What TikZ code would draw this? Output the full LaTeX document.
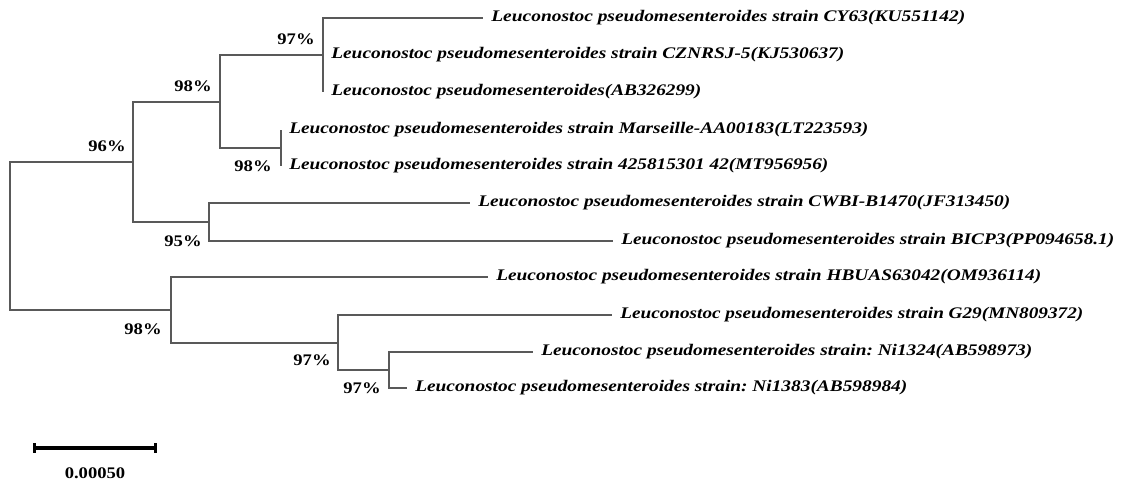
\documentclass[tikz,border=0pt]{standalone}
\usepackage{fontspec}
\setmainfont{Liberation Serif}
\usepackage{graphicx}
\usetikzlibrary{arrows.meta}
\frenchspacing

\newdimen\pxu
\pxu=0.025cm
\newcommand{\leaflab}[2]{\resizebox{#1\pxu}{\height}{#2}}
\newcommand{\widelab}[1]{\scalebox{1.15}[1]{#1}}

\begin{document}
\begin{tikzpicture}[x=0.025cm, y=-0.025cm,
    branch/.style={draw=black!65, line width=0.9pt},
    leaf/.style={anchor=west, inner xsep=0.2cm, inner ysep=0pt,
                 font=\fontsize{11.5}{13}\selectfont\bfseries\itshape},
    boot/.style={inner sep=0pt, font=\fontsize{11.5}{13}\selectfont\bfseries}]
\useasboundingbox (0,0) rectangle (1124,483);

\coordinate (root) at (10,236);
\coordinate (n96) at (133,162);
\coordinate (n98a) at (220,102);
\coordinate (n97a) at (323,55);
\coordinate (n98b) at (281,148);
\coordinate (n95) at (209,222);
\coordinate (n98c) at (171,310);
\coordinate (n97b) at (338,343);
\coordinate (n97c) at (389,370);

\node[leaf] (cy63) at (483,18) {\leaflab{474}{Leuconostoc pseudomesenteroides strain CY63(KU551142)}};
\node[leaf] (cznrsj) at (323,55) {\leaflab{513}{Leuconostoc pseudomesenteroides strain CZNRSJ-5(KJ530637)}};
\node[leaf] (ab326) at (323,92) {\leaflab{370}{Leuconostoc pseudomesenteroides(AB326299)}};
\node[leaf] (marseille) at (281,130) {\leaflab{579}{Leuconostoc pseudomesenteroides strain Marseille-AA00183(LT223593)}};
\node[leaf] (mt9569) at (281,166) {\leaflab{539}{Leuconostoc pseudomesenteroides strain 425815301 42(MT956956)}};
\node[leaf] (cwbi) at (470,203) {\leaflab{532}{Leuconostoc pseudomesenteroides strain CWBI-B1470(JF313450)}};
\node[leaf] (bicp3) at (613,241) {\leaflab{493}{Leuconostoc pseudomesenteroides strain BICP3(PP094658.1)}};
\node[leaf] (hbuas) at (488,277) {\leaflab{545}{Leuconostoc pseudomesenteroides strain HBUAS63042(OM936114)}};
\node[leaf] (g29) at (612,315) {\leaflab{463}{Leuconostoc pseudomesenteroides strain G29(MN809372)}};
\node[leaf] (ni1324) at (533,352) {\leaflab{491}{Leuconostoc pseudomesenteroides strain: Ni1324(AB598973)}};
\node[leaf] (ni1383) at (407,388) {\leaflab{492}{Leuconostoc pseudomesenteroides strain: Ni1383(AB598984)}};

\draw[branch] (root) |- (n96);
\draw[branch] (root) |- (n98c);
\draw[branch] (n96) |- (n98a);
\draw[branch] (n96) |- (n95);
\draw[branch] (n98a) |- (n97a);
\draw[branch] (n98a) |- (n98b);
\draw[branch] (n97a) |- (cy63.west);
\draw[branch] (n97a) |- (cznrsj.west);
\draw[branch] (n97a) |- (ab326.west);
\draw[branch] (n98b) |- (marseille.west);
\draw[branch] (n98b) |- (mt9569.west);
\draw[branch] (n95) |- (cwbi.west);
\draw[branch] (n95) |- (bicp3.west);
\draw[branch] (n98c) |- (hbuas.west);
\draw[branch] (n98c) |- (n97b);
\draw[branch] (n97b) |- (g29.west);
\draw[branch] (n97b) |- (n97c);
\draw[branch] (n97c) |- (ni1324.west);
\draw[branch] (n97c) |- (ni1383.west);

\node[boot] (b96) at (107,146) {\widelab{96\%}};
\node[boot] (b98a) at (193,86) {\widelab{98\%}};
\node[boot] (b97a) at (296,39) {\widelab{97\%}};
\node[boot] (b98b) at (253,166) {\widelab{98\%}};
\node[boot] (b95) at (183,241) {\widelab{95\%}};
\node[boot] (b98c) at (143,329) {\widelab{98\%}};
\node[boot] (b97b) at (312,360) {\widelab{97\%}};
\node[boot] (b97c) at (362,388) {\widelab{97\%}};

\coordinate (barl) at (33,448);
\coordinate (barr) at (157,448);
\draw[line width=2.2pt, {Bar[width=7pt]}-{Bar[width=7pt]}] (barl) -- (barr);
\node[boot] (barlab) at (95,473) {\widelab{0.00050}};
\end{tikzpicture}
\end{document}
